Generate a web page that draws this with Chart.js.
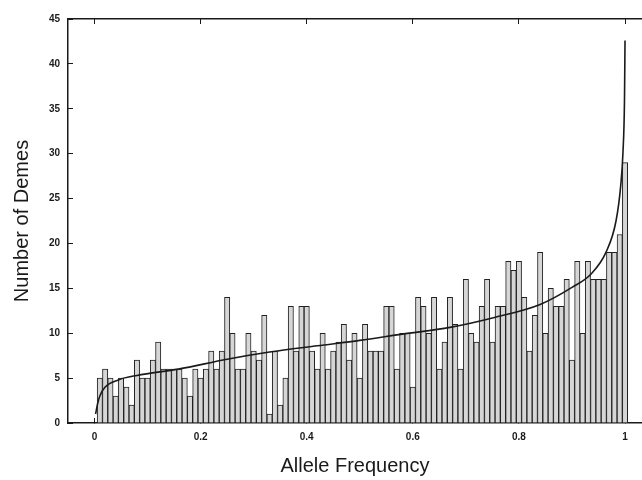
<!DOCTYPE html>
<html>
<head>
<meta charset="utf-8">
<script src="https://cdn.jsdelivr.net/npm/chart.js@4.4.0/dist/chart.umd.min.js"></script>
<style>
  html, body { margin: 0; padding: 0; background: #fff; }
  #wrap { width: 642px; height: 480px; }
</style>
</head>
<body>
<div id="wrap"><canvas id="c" width="642" height="480"></canvas></div>
<script>
'use strict';

// ── Data ──────────────────────────────────────────────────────────────────
// 100 bins of width 0.01; bar k sits at k/100
const BIN_WIDTH = 0.01;
const demeCounts = [
   5,  6,  5,  3,  5,  4,  2,  7,  5,  5,
   7,  9,  6,  6,  6,  6,  5,  3,  6,  5,
   6,  8,  6,  8, 14, 10,  6,  6, 10,  8,
   7, 12,  1,  8,  2,  5, 13,  8, 13, 13,
   8,  6, 10,  6,  8,  9, 11,  7, 10,  5,
  11,  8,  8,  8, 13, 13,  6, 10, 10,  4,
  14, 13, 10, 14,  6,  9, 14, 11,  6, 16,
  10,  9, 13, 16,  9, 13, 13, 18, 17, 18,
  14,  8, 12, 19, 10, 15, 13, 13, 16,  7,
  18, 10, 18, 16, 16, 16, 19, 19, 21, 29
];

// fitted curve, sampled by eye
const curveX = [0.002, 0.006, 0.01, 0.02, 0.045, 0.08, 0.158, 0.25, 0.33, 0.42, 0.5,
                0.58, 0.67, 0.75, 0.84, 0.9, 0.936, 0.964, 0.983, 0.992, 0.996, 0.999, 1.0];
const curveY = [1.0, 2.2, 3.0, 4.0, 4.8, 5.3, 6.0, 7.1, 7.9, 8.6, 9.2,
                9.9, 10.65, 11.7, 13.2, 15.1, 16.6, 19.0, 22.5, 26.5, 30, 36, 42.6];

const xTicks = [0, 0.2, 0.4, 0.6, 0.8, 1];
const yTicks = [0, 5, 10, 15, 20, 25, 30, 35, 40, 45];

const FONT = "'Liberation Sans', Arial, Helvetica, sans-serif";
const INK = '#1a1a1a';

const bars = demeCounts.map((n, i) => ({ x: (i + 1) * BIN_WIDTH, y: n }));
const curve = curveX.map((x, i) => ({ x, y: curveY[i] }));

const tickFont = { family: FONT, size: 10, weight: 'bold' };

function fixTicks(vals) {
  return scale => { scale.ticks = vals.map(v => ({ value: v })); };
}

new Chart(document.getElementById('c'), {
  type: 'bar',
  data: {
    datasets: [
      {
        type: 'line',
        data: curve,
        borderColor: INK,
        borderWidth: 1.6,
        pointRadius: 0,
        cubicInterpolationMode: 'monotone',
        fill: false
      },
      {
        data: bars,
        backgroundColor: '#d6d6d6',
        borderColor: '#222',
        borderWidth: 1,
        barPercentage: 1,
        categoryPercentage: 1
      }
    ]
  },
  options: {
    responsive: false,
    animation: false,
    devicePixelRatio: 1,
    layout: { padding: 0 },
    plugins: { legend: { display: false }, tooltip: { enabled: false } },
    scales: {
      x: {
        type: 'linear',
        position: 'bottom',
        min: -0.05,
        max: 1.032,
        offset: false,
        afterBuildTicks: fixTicks(xTicks),
        afterFit: s => { s.height = 57; },
        grid: { offset: false, drawOnChartArea: false, drawTicks: true, tickLength: -5, color: INK },
        border: { display: true, color: INK, width: 1.5 },
        ticks: {
          color: INK, font: tickFont, padding: 13, maxRotation: 0,
          callback: v => String(Math.round(v * 10) / 10)
        },
        title: {
          display: true, text: 'Allele Frequency', color: INK,
          font: { family: FONT, size: 20 }, padding: { top: 0, bottom: 2 }
        }
      },
      xTop: {
        type: 'linear',
        position: 'top',
        min: -0.05,
        max: 1.032,
        offset: false,
        afterBuildTicks: fixTicks(xTicks),
        afterFit: s => { s.height = 16; },
        grid: { offset: false, drawOnChartArea: false, drawTicks: true, tickLength: -5, color: INK },
        border: { display: true, color: INK, width: 1.5 },
        ticks: { display: false }
      },
      y: {
        min: 0,
        max: 45,
        afterBuildTicks: fixTicks(yTicks),
        afterFit: s => { s.width = 68; },
        grid: { drawOnChartArea: false, drawTicks: true, tickLength: -5, color: INK },
        border: { display: true, color: INK, width: 1.5 },
        ticks: { color: INK, font: tickFont, padding: 13 },
        title: {
          display: true, text: 'Number of Demes', color: INK,
          font: { family: FONT, size: 20 }, padding: { top: 10, bottom: 0 }
        }
      }
    }
  }
});
</script>
</body>
</html>
